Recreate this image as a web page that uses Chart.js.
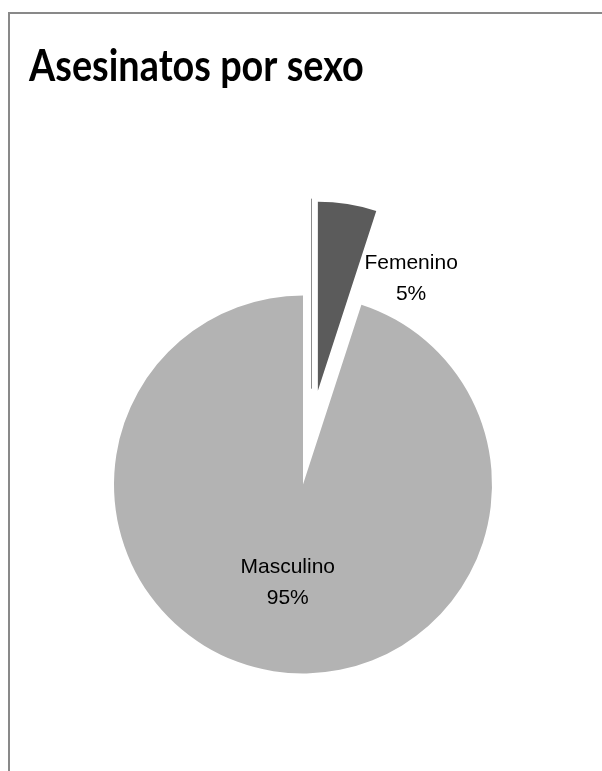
<!DOCTYPE html>
<html>
<head>
<meta charset="utf-8">
<script src="https://cdn.jsdelivr.net/npm/chart.js@4/dist/chart.umd.min.js"></script>
<style>
  html, body { margin: 0; padding: 0; background: #fff; overflow: hidden; }
  #wrap { position: relative; width: 602px; height: 771px; }
  #frame {
    position: absolute; left: 8px; top: 12px; width: 800px; height: 900px;
    border: 2px solid #898989; box-sizing: border-box;
  }
  #chart { position: absolute; left: 0; top: 0; }
</style>
</head>
<body>
<div id="wrap">
  <div id="frame"></div>
  <canvas id="chart" width="602" height="771"></canvas>
</div>
<script>
// Data
const categories = ['Femenino', 'Masculino'];
const percentages = [5, 95];
const chartTitle = 'Asesinatos por sexo';

// Styles
const sliceColors = ['#5b5b5b', '#b3b3b3'];
const explodePx = [95, 0];          // distance each slice is pulled out
const labelTurn = [0.532, 0];       // label angle relative to slice middle (rad)
const labelDist = [0.776, 0.516];   // label distance as fraction of radius

// Pull slices out along their middle angle (Excel style explode)
const explodePlugin = {
  id: 'explode',
  afterDatasetsUpdate(chart) {
    const meta = chart.getDatasetMeta(0);
    meta.data.forEach((arc, i) => {
      const mid = (arc.startAngle + arc.endAngle) / 2;
      arc.x += Math.cos(mid) * explodePx[i];
      arc.y += Math.sin(mid) * explodePx[i];
    });
  }
};

// Condensed bold title (Calibri-like look)
const titlePlugin = {
  id: 'condensedTitle',
  afterDraw(chart) {
    const ctx = chart.ctx;
    ctx.save();
    ctx.font = 'bold 43px Lato, sans-serif';
    ctx.fillStyle = '#000';
    ctx.textBaseline = 'alphabetic';
    ctx.translate(29, 81);
    ctx.scale(0.88, 1);
    ctx.fillText(chartTitle, 0, 0);
    ctx.restore();
  }
};

// Two-line data labels: name + percent
const labelPlugin = {
  id: 'sliceLabels',
  afterDatasetsDraw(chart) {
    const ctx = chart.ctx;
    const meta = chart.getDatasetMeta(0);

    // faint edge line left of the exploded slice
    const fem = meta.data[0];
    ctx.save();
    ctx.strokeStyle = '#8c8c8c';
    ctx.lineWidth = 1;
    ctx.beginPath();
    ctx.moveTo(Math.round(fem.x) - 6.5, fem.y - 2);
    ctx.lineTo(Math.round(fem.x) - 6.5, fem.y - fem.outerRadius - 3);
    ctx.stroke();

    ctx.fillStyle = '#000';
    ctx.font = '21px "Liberation Sans", Arial, sans-serif';
    ctx.textAlign = 'center';
    ctx.textBaseline = 'alphabetic';
    meta.data.forEach((arc, i) => {
      const ang = (arc.startAngle + arc.endAngle) / 2 + labelTurn[i];
      const r = arc.outerRadius * labelDist[i];
      const cx = arc.x + Math.cos(ang) * r;
      const cy = arc.y + Math.sin(ang) * r;
      ctx.fillText(categories[i], cx, cy - 8);
      ctx.fillText(percentages[i] + '%', cx, cy + 23);
    });
    ctx.restore();
  }
};

new Chart(document.getElementById('chart'), {
  type: 'pie',
  data: {
    labels: categories,
    datasets: [{
      data: percentages,
      backgroundColor: sliceColors,
      borderWidth: 0
    }]
  },
  options: {
    responsive: false,
    animation: false,
    radius: 189,
    layout: { padding: { left: 29, right: 25, top: 198, bottom: 0 } },
    plugins: {
      legend: { display: false },
      tooltip: { enabled: false },
      title: { display: false }
    }
  },
  plugins: [explodePlugin, labelPlugin, titlePlugin]
});
</script>
</body>
</html>
